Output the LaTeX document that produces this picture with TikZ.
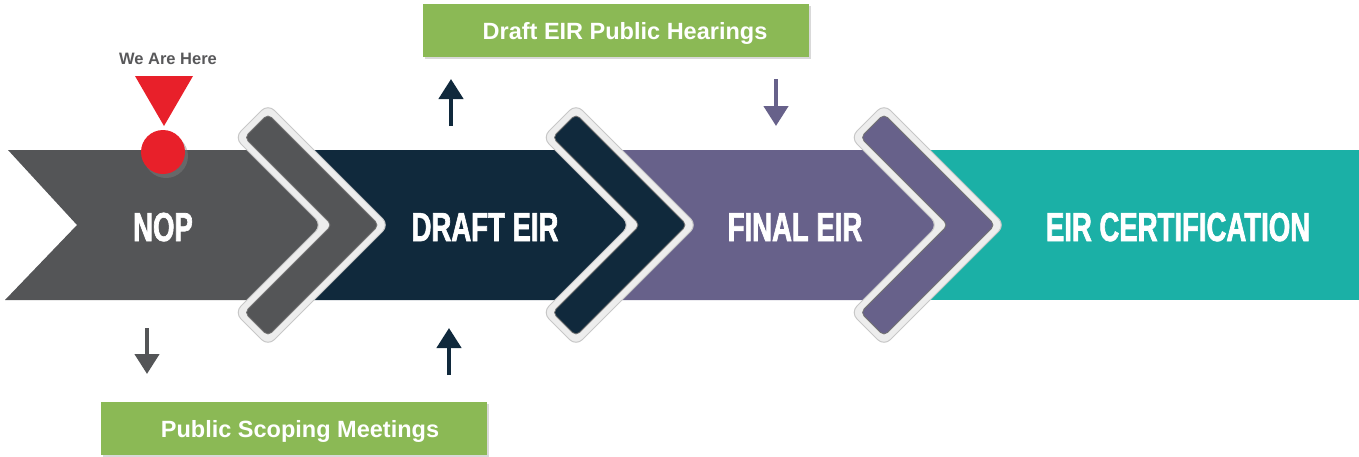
\documentclass[tikz,border=0pt]{standalone}
\usepackage{fontspec}
\setmainfont{Liberation Sans}
\newfontfamily\stagefont{Liberation Sans}[FakeStretch=0.68,FakeBold=1.6]
\usetikzlibrary{arrows.meta,shadows}

\definecolor{nopgray}{HTML}{545557}
\definecolor{draftnavy}{HTML}{10293C}
\definecolor{finalpurple}{HTML}{67618A}
\definecolor{certteal}{HTML}{1BB0A6}
\definecolor{meetgreen}{HTML}{8BB955}
\definecolor{pinred}{HTML}{E8202A}
\definecolor{heretext}{HTML}{58585A}

\tikzset{
  stagetext/.style={anchor=base, text=white, font=\stagefont\bfseries\fontsize{40.5}{41}\selectfont},
  meetbox/.style={fill=meetgreen, minimum width=386pt, minimum height=53pt, inner sep=0pt,
    text height=17pt, text depth=0pt, text=white, font=\bfseries\fontsize{23.5}{24}\selectfont,
    drop shadow={shadow xshift=1.5pt, shadow yshift=-1.5pt, opacity=.3}},
  tickarrow/.style={line width=4.5pt, -{Triangle[width=24pt,length=20pt]}},
  chevronrim/.style={fill=white!93!black, draw=black!22, line width=1pt, rounded corners=9pt},
  chevronbody/.style={draw=black!55, line width=.8pt, rounded corners=5pt}
}

\begin{document}
\begin{tikzpicture}[x=1pt,y=-1pt]
        \useasboundingbox (0,0) rectangle (1359,456);

        \fill[certteal] (895,150) rectangle (1359,300);
        \fill[finalpurple] (587,150) -- (895,150) -- (969,225) -- (895,300) -- (587,300) -- cycle;
        \fill[draftnavy] (279,150) -- (587,150) -- (661,225) -- (587,300) -- (279,300) -- cycle;
        \fill[nopgray] (8,150) -- (279,150) -- (353,225) -- (279,300) -- (5,300) -- (77,225) -- cycle;

        \foreach \tip/\col in {389/nopgray,697/draftnavy,1005/finalpurple}{
          \begin{scope}[shift={(\tip,225)}]
            \path[chevronrim] (0,0) -- (-121,-121) -- (-154.5,-87.5) -- (-67,0) -- (-154.5,87.5) -- (-121,121) -- cycle;
            \path[chevronbody, fill=\col] (-10,0) -- (-121,-111) -- (-144.5,-87.5) -- (-57,0) -- (-144.5,87.5) -- (-121,111) -- cycle;
          \end{scope}
        }

        \node[stagetext] (nop) at (163,241) {NOP};
        \node[stagetext] (draft) at (485,241) {DRAFT EIR};
        \node[stagetext] (final) at (795,241) {FINAL EIR};
        \node[stagetext] (cert) at (1178,241) {EIR CERTIFICATION};

        \node[meetbox] (hearings) at (616,30.5) {\hspace*{18pt}Draft EIR Public Hearings};
        \node[meetbox] (scoping) at (294,428.5) {\hspace*{12pt}Public Scoping Meetings};

        \node[anchor=base, text=heretext, font=\bfseries\fontsize{16.5}{17}\selectfont] (here) at (168,64) {We Are Here};
        \fill[pinred] (135,76) -- (193,76) -- (164,126) -- cycle;
        \node[circle, fill=pinred, minimum size=44pt, inner sep=0pt,
          drop shadow={shadow xshift=3pt, shadow yshift=-4pt, opacity=.45}] (pin) at (163,152) {};

        \coordinate (scopetop) at (147,328);
        \coordinate (scopebot) at (147,374);
        \coordinate (draftlow) at (449,375);
        \coordinate (draftlowtip) at (449,328);
        \coordinate (draftup) at (451,126);
        \coordinate (draftuptip) at (451,79);
        \coordinate (finaltop) at (776,79);
        \coordinate (finalbot) at (776,126);

        \draw [tickarrow, nopgray] (scopetop) -- (scopebot);
        \draw [tickarrow, draftnavy] (draftlow) -- (draftlowtip);
        \draw [tickarrow, draftnavy] (draftup) -- (draftuptip);
        \draw [tickarrow, finalpurple] (finaltop) -- (finalbot);
\end{tikzpicture}
\end{document}
